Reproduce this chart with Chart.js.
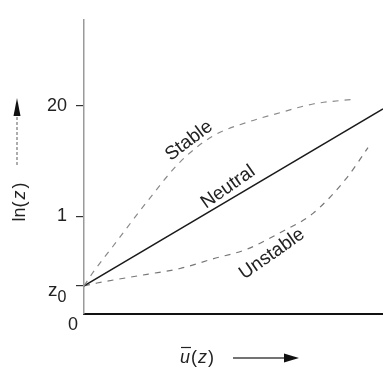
<!DOCTYPE html>
<html>
<head>
<meta charset="utf-8">
<script src="https://cdn.jsdelivr.net/npm/chart.js"></script>
<style>
  html, body { margin: 0; padding: 0; background: #fff; overflow: hidden; }
</style>
</head>
<body>
<canvas id="myChart" width="383" height="369"></canvas>
<script>
// values (height above the u axis, in px-like units)
const xRange = [0, 299];
const yRange = [0, 304];
const yTickValues = [29, 101, 215];
const yTickLabels = ['z0', '1', '20'];

const neutralX = [0, 299];
const neutralY = [29, 212];
const stableX = [0, 9, 29, 63, 96, 129, 163, 196, 229, 271];
const stableY = [29, 43, 70, 116, 157, 184, 198, 208, 217, 222];
const unstableX = [0, 13, 63, 96, 129, 163, 196, 229, 263, 284];
const unstableY = [29, 32, 41, 47, 57, 67, 84, 104, 141, 172];

const curveNames = ['Stable', 'Neutral', 'Unstable'];

const FONT = '"Liberation Sans", Arial, Helvetica, sans-serif';
const myChartCanvas = document.getElementById("myChart");

const toPoints = (xs, ys) => xs.map((x, i) => ({ x: x, y: ys[i] }));

// curve labels: anchor (data units) + angle
const curveLabelPos = [
    { x: 105, y: 179, angle: -37 },
    { x: 144, y: 131, angle: -35 },
    { x: 188, y: 62, angle: -35 }
];

const extrasPlugin = {
    id: 'extras',
    afterDraw(chart) {
        const ctx = chart.ctx;
        const xs = chart.scales.x;
        const ys = chart.scales.y;
        ctx.save();
        ctx.fillStyle = '#222';

        // curve labels
        ctx.font = '19px ' + FONT;
        ctx.textAlign = 'center';
        ctx.textBaseline = 'middle';
        curveNames.forEach((name, i) => {
            const p = curveLabelPos[i];
            ctx.save();
            ctx.translate(xs.getPixelForValue(p.x), ys.getPixelForValue(p.y));
            ctx.rotate(p.angle * Math.PI / 180);
            ctx.fillText(name, 0, 0);
            ctx.restore();
        });

        // z0 tick label with subscript
        const zIdx = yTickLabels.indexOf('z0');
        const zy = ys.getPixelForValue(yTickValues[zIdx]);
        ctx.textAlign = 'left';
        ctx.textBaseline = 'alphabetic';
        ctx.font = '19px ' + FONT;
        ctx.fillText('z', 48, zy + 10);
        ctx.font = '16px ' + FONT;
        ctx.fillText('0', 57.5, zy + 16);

        // origin label
        ctx.font = '18px ' + FONT;
        ctx.textAlign = 'center';
        ctx.textBaseline = 'middle';
        ctx.fillText('0', xs.left - 11, ys.bottom + 11);

        // y title: ln(z) rotated, with arrow above
        ctx.save();
        ctx.translate(20, 202);
        ctx.rotate(-Math.PI / 2);
        ctx.textAlign = 'left';
        ctx.textBaseline = 'middle';
        ctx.font = '18px ' + FONT;
        let w1 = ctx.measureText('ln(').width;
        ctx.font = 'italic 18px ' + FONT;
        let w2 = ctx.measureText('z').width;
        ctx.font = '18px ' + FONT;
        let w3 = ctx.measureText(')').width;
        let x0 = -(w1 + w2 + w3 + 4) / 2;
        ctx.fillText('ln(', x0, 0);
        ctx.font = 'italic 18px ' + FONT;
        ctx.fillText('z', x0 + w1 + 2, 0);
        ctx.font = '18px ' + FONT;
        ctx.fillText(')', x0 + w1 + w2 + 4, 0);
        ctx.restore();

        ctx.strokeStyle = '#777';
        ctx.lineWidth = 1.2;
        ctx.setLineDash([3, 2]);
        ctx.beginPath();
        ctx.moveTo(17, 165);
        ctx.lineTo(17, 112);
        ctx.stroke();
        ctx.setLineDash([]);
        ctx.fillStyle = '#111';
        ctx.beginPath();
        ctx.moveTo(17, 98);
        ctx.lineTo(13.5, 116);
        ctx.lineTo(20.5, 116);
        ctx.closePath();
        ctx.fill();

        // x title: u-bar(z) with arrow
        ctx.fillStyle = '#222';
        ctx.textAlign = 'left';
        ctx.textBaseline = 'alphabetic';
        ctx.font = 'italic 18px ' + FONT;
        const uw = ctx.measureText('u').width;
        ctx.fillText('u', 180, 363);
        ctx.strokeStyle = '#222';
        ctx.lineWidth = 1.2;
        ctx.beginPath();
        ctx.moveTo(181, 347.5);
        ctx.lineTo(180 + uw + 1, 347.5);
        ctx.stroke();
        ctx.font = '18px ' + FONT;
        ctx.fillText('(', 180 + uw + 1, 363);
        const pw = ctx.measureText('(').width;
        ctx.font = 'italic 18px ' + FONT;
        ctx.fillText('z', 180 + uw + pw + 2, 363);
        const zw = ctx.measureText('z').width;
        ctx.font = '18px ' + FONT;
        ctx.fillText(')', 180 + uw + pw + zw + 3, 363);

        ctx.strokeStyle = '#444';
        ctx.lineWidth = 1.5;
        ctx.beginPath();
        ctx.moveTo(233, 358);
        ctx.lineTo(286, 358);
        ctx.stroke();
        ctx.fillStyle = '#111';
        ctx.beginPath();
        ctx.moveTo(299, 358);
        ctx.lineTo(284, 353.5);
        ctx.lineTo(284, 362.5);
        ctx.closePath();
        ctx.fill();

        ctx.restore();
    }
};

const config = {
    type: 'line',
    data: {
        datasets: [
            {
                label: curveNames[0],
                data: toPoints(stableX, stableY),
                borderColor: '#8a8a8a',
                borderWidth: 1.2,
                borderDash: [6, 6],
                cubicInterpolationMode: 'monotone',
                pointRadius: 0
            },
            {
                label: curveNames[1],
                data: toPoints(neutralX, neutralY),
                borderColor: '#1a1a1a',
                borderWidth: 1.5,
                pointRadius: 0
            },
            {
                label: curveNames[2],
                data: toPoints(unstableX, unstableY),
                borderColor: '#777',
                borderWidth: 1.2,
                borderDash: [6, 6],
                cubicInterpolationMode: 'monotone',
                pointRadius: 0
            }
        ]
    },
    options: {
        responsive: false,
        animation: false,
        layout: { padding: { top: 10, right: 0, left: 0, bottom: 0 } },
        plugins: {
            legend: { display: false },
            tooltip: { enabled: false }
        },
        scales: {
            x: {
                type: 'linear',
                min: xRange[0],
                max: xRange[1],
                grid: { display: false },
                ticks: { display: false },
                border: { color: '#111', width: 2 },
                afterFit: (scale) => { scale.height = 55; }
            },
            y: {
                type: 'linear',
                min: yRange[0],
                max: yRange[1],
                afterBuildTicks: (scale) => {
                    scale.ticks = yTickValues.map((v) => ({ value: v }));
                },
                ticks: {
                    padding: 9,
                    color: '#222',
                    font: { family: FONT, size: 18 },
                    callback: (value) => {
                        const label = yTickLabels[yTickValues.indexOf(value)];
                        return label === 'z0' ? '' : label;
                    }
                },
                grid: {
                    drawOnChartArea: false,
                    tickLength: 8,
                    color: '#333',
                    lineWidth: 1.2
                },
                border: { color: '#9a9a9a', width: 1.5 },
                afterFit: (scale) => { scale.width = 84; }
            }
        }
    },
    plugins: [extrasPlugin]
};

const myChart = new Chart(myChartCanvas, config);
</script>
</body>
</html>
